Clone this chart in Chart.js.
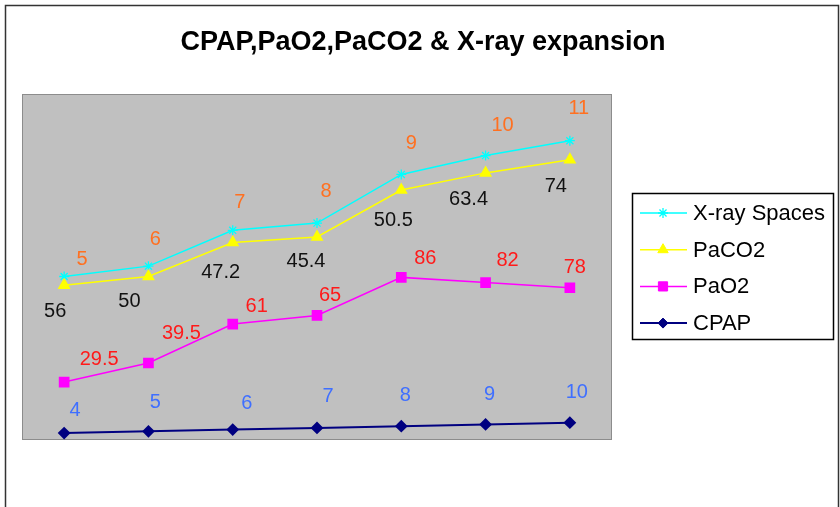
<!DOCTYPE html>
<html>
<head>
<meta charset="utf-8">
<script src="https://cdn.jsdelivr.net/npm/chart.js@4"></script>
<style>
  html, body { margin: 0; padding: 0; background: #ffffff; }
  #wrap { width: 840px; height: 507px; position: relative; }
</style>
</head>
<body>
<div id="wrap"><canvas id="cpapChart" width="840" height="507"></canvas></div>
<script>
// Data (values as printed on the chart; lines are stacked like the Excel original)
const categories = ['1', '2', '3', '4', '5', '6', '7'];
const cpap = [4, 5, 6, 7, 8, 9, 10];
const pao2 = [29.5, 39.5, 61, 65, 86, 82, 78];
const paco2 = [56, 50, 47.2, 45.4, 50.5, 63.4, 74];
const xraySpaces = [5, 6, 7, 8, 9, 10, 11];

// label nudges (dx, dy) relative to each point, per series
const labelShift = {
    cpap:  [[11,-23],[7,-29],[14,-26],[11,-31],[4,-31],[4,-30],[7,-30]],
    pao2:  [[35,-23],[33,-30],[24,-18],[13,-20],[24,-19],[22,-22],[5,-20]],
    paco2: [[-9,26],[-19,25],[-12,30],[-11,25],[-8,30],[-17,27],[-14,27]],
    xray:  [[18,-17],[7,-27],[7,-28],[9,-32],[10,-31],[17,-30],[9,-32]]
};

const FONT = 'Arial, "Liberation Sans", sans-serif';

// Gray plot area, outer frame and title
const framePlugin = {
    id: 'frame',
    beforeDraw(chart) {
        const { ctx, chartArea: a } = chart;
        ctx.save();
        ctx.fillStyle = '#ffffff';
        ctx.fillRect(0, 0, chart.width, chart.height);
        ctx.strokeStyle = '#333333';
        ctx.lineWidth = 1.5;
        ctx.strokeRect(5.5, 5.5, 833, 540);
        ctx.fillStyle = '#c0c0c0';
        ctx.fillRect(a.left, a.top, a.right - a.left, a.bottom - a.top);
        ctx.strokeStyle = '#8c8c8c';
        ctx.lineWidth = 1;
        ctx.strokeRect(a.left + 0.5, a.top + 0.5, a.right - a.left - 1, a.bottom - a.top - 1);
        ctx.fillStyle = '#000000';
        ctx.font = 'bold 27px ' + FONT;
        ctx.textAlign = 'center';
        ctx.textBaseline = 'alphabetic';
        ctx.fillText('CPAP,PaO2,PaCO2 & X-ray expansion', 423, 50);
        ctx.restore();
    }
};

// Value labels + boxed legend on the right
const labelPlugin = {
    id: 'valueLabels',
    afterDatasetsDraw(chart) {
        const { ctx } = chart;
        ctx.save();
        ctx.font = '20px ' + FONT;
        ctx.textAlign = 'center';
        ctx.textBaseline = 'middle';
        chart.data.datasets.forEach((ds, i) => {
            const meta = chart.getDatasetMeta(i);
            const shifts = labelShift[ds.key];
            meta.data.forEach((pt, j) => {
                ctx.fillStyle = ds.labelColor;
                ctx.fillText(String(ds.raw[j]), pt.x + shifts[j][0], pt.y + shifts[j][1]);
            });
        });

        // legend
        const box = { x: 632, y: 193, w: 201, h: 146 };
        ctx.fillStyle = '#ffffff';
        ctx.fillRect(box.x, box.y, box.w, box.h);
        ctx.strokeStyle = '#000000';
        ctx.lineWidth = 1.5;
        ctx.strokeRect(box.x + 0.5, box.y + 0.5, box.w, box.h);
        ctx.font = '22px ' + FONT;
        ctx.textAlign = 'left';
        const order = chart.data.datasets.slice().reverse();
        order.forEach((ds, k) => {
            const y = 213 + k * 36.7;
            ctx.strokeStyle = ds.borderColor;
            ctx.lineWidth = ds.borderWidth;
            ctx.beginPath();
            ctx.moveTo(640, y);
            ctx.lineTo(687, y);
            ctx.stroke();
            ctx.fillStyle = ds.pointBackgroundColor;
            ctx.strokeStyle = ds.pointBorderColor;
            ctx.lineWidth = ds.pointBorderWidth || 1;
            Chart.helpers.drawPoint(ctx, {
                pointStyle: ds.pointStyle,
                radius: ds.pointRadius,
                borderWidth: ds.pointBorderWidth || 1
            }, 663, y);
            ctx.fillStyle = '#000000';
            ctx.fillText(ds.label, 693, y + 1);
        });
        ctx.restore();
    }
};

const ctx = document.getElementById('cpapChart').getContext('2d');

new Chart(ctx, {
    type: 'line',
    data: {
        labels: categories,
        datasets: [{
            key: 'cpap',
            label: 'CPAP',
            raw: cpap,
            data: cpap,
            borderColor: '#000080',
            backgroundColor: '#000080',
            pointBackgroundColor: '#000080',
            pointBorderColor: '#000080',
            borderWidth: 2,
            pointStyle: 'rectRot',
            pointRadius: 5,
            labelColor: '#3f6fff'
        }, {
            key: 'pao2',
            label: 'PaO2',
            raw: pao2,
            data: pao2,
            borderColor: '#ff00ff',
            backgroundColor: '#ff00ff',
            pointBackgroundColor: '#ff00ff',
            pointBorderColor: '#ff00ff',
            borderWidth: 1.5,
            pointStyle: 'rect',
            pointRadius: 6.5,
            labelColor: '#ff1a1a'
        }, {
            key: 'paco2',
            label: 'PaCO2',
            raw: paco2,
            data: paco2,
            borderColor: '#ffff00',
            backgroundColor: '#ffff00',
            pointBackgroundColor: '#ffff00',
            pointBorderColor: '#ffff00',
            borderWidth: 1.5,
            pointStyle: 'triangle',
            pointRadius: 6,
            labelColor: '#111111'
        }, {
            key: 'xray',
            label: 'X-ray Spaces',
            raw: xraySpaces,
            data: xraySpaces,
            borderColor: '#00ffff',
            backgroundColor: '#00ffff',
            pointBackgroundColor: '#00ffff',
            pointBorderColor: '#00ffff',
            borderWidth: 1.5,
            pointStyle: 'star',
            pointRadius: 5,
            pointBorderWidth: 1.3,
            labelColor: '#ff7020'
        }]
    },
    options: {
        responsive: false,
        animation: false,
        layout: {
            padding: { left: 22, top: 94, right: 228, bottom: 67 }
        },
        elements: {
            line: { tension: 0, fill: false }
        },
        plugins: {
            legend: { display: false },
            title: { display: false },
            tooltip: { enabled: false }
        },
        scales: {
            x: {
                display: false,
                offset: true
            },
            y: {
                display: false,
                stacked: true,
                min: 0,
                max: 200
            }
        }
    },
    plugins: [framePlugin, labelPlugin]
});
</script>
</body>
</html>
